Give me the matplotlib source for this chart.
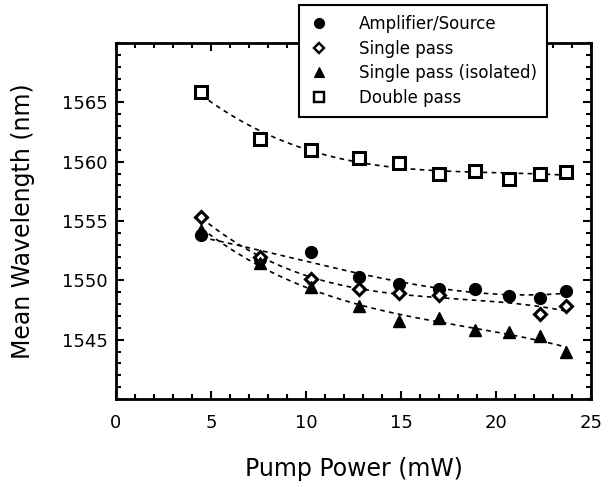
import numpy as np
import matplotlib
matplotlib.use("Agg")
import matplotlib.pyplot as plt
from matplotlib.ticker import MultipleLocator

# Pump power (mW) for each measurement
pump = [4.5, 7.6, 10.25, 12.8, 14.9, 17.0, 18.9, 20.7, 22.3, 23.7]

amp_source = [1553.8, 1551.8, 1552.4, 1550.3, 1549.7, 1549.3, 1549.3, 1548.7, 1548.5, 1549.1]

single_x = [4.5, 7.6, 10.25, 12.8, 14.9, 17.0, 22.3, 23.7]
single = [1555.3, 1552.0, 1550.1, 1549.3, 1548.9, 1548.8, 1547.2, 1547.8]

isolated = [1554.2, 1551.5, 1549.4, 1547.8, 1546.6, 1546.8, 1545.8, 1545.65, 1545.3, 1544.0]

double = [1565.9, 1561.9, 1560.95, 1560.3, 1559.9, 1559.0, 1559.2, 1558.5, 1559.0, 1559.1]

labels = ["Amplifier/Source", "Single pass", "Single pass (isolated)", "Double pass"]

plt.rcParams['font.family'] = ['DejaVu Sans']

fig = plt.figure(figsize=(6.15, 4.87), dpi=100)
ax = fig.add_axes([0.1886, 0.1807, 0.961 - 0.1886, 0.9117 - 0.1807])

series = [
    (pump, amp_source, dict(marker='o', ms=8.5, mfc='black', mec='black', mew=1)),
    (single_x, single, dict(marker='D', ms=6.5, mfc='white', mec='black', mew=2.2)),
    (pump, isolated, dict(marker='^', ms=8.5, mfc='black', mec='black', mew=1)),
    (pump, double, dict(marker='s', ms=8.5, mfc='white', mec='black', mew=2.2)),
]

handles = []
for (xs, ys, style), lab in zip(series, labels):
    # dashed smooth fit through each data set
    coef = np.polyfit(xs, ys, 3)
    xf = np.linspace(min(xs), max(xs), 200)
    ax.plot(xf, np.polyval(coef, xf), color='black', lw=1.2,
            linestyle=(0, (2.8, 2.6)), zorder=1)
    h, = ax.plot(xs, ys, linestyle='none', zorder=3, **style)
    handles.append(h)

ax.set_xlim(0, 25)
ax.set_ylim(1540, 1570)
ax.xaxis.set_major_locator(MultipleLocator(5))
ax.xaxis.set_minor_locator(MultipleLocator(1))
ax.yaxis.set_major_locator(MultipleLocator(5))
ax.yaxis.set_minor_locator(MultipleLocator(1))
ax.set_yticks([1545, 1550, 1555, 1560, 1565])

ax.tick_params(which='both', direction='in', top=True, right=True, width=1.5)
ax.tick_params(which='major', length=6)
ax.tick_params(which='minor', length=3.5)
ax.tick_params(axis='x', labelsize=13, pad=11)
ax.tick_params(axis='y', labelsize=13, pad=6)
for sp in ax.spines.values():
    sp.set_linewidth(2)

ax.set_xlabel("Pump Power (mW)", fontsize=17, labelpad=18)
ax.set_ylabel("Mean Wavelength (nm)", fontsize=17, labelpad=19)

leg_handles = []
for h in handles:
    lh, = ax.plot([], [], linestyle='none', marker=h.get_marker(),
                  mfc=h.get_markerfacecolor(), mec='black',
                  ms=h.get_markersize() * 0.85, mew=h.get_markeredgewidth() * 0.8)
    leg_handles.append(lh)

leg = fig.legend(leg_handles, labels, loc='upper left',
                 bbox_to_anchor=(299 / 615, 1 - 5 / 487),
                 bbox_transform=fig.transFigure, borderaxespad=0,
                 fontsize=12, frameon=True, fancybox=False, shadow=False,
                 framealpha=1, handlelength=1.2, handletextpad=1.8,
                 labelspacing=0.4, borderpad=0.6)
leg.get_frame().set_edgecolor('black')
leg.get_frame().set_linewidth(1.5)
leg.set_zorder(10)

fig.savefig("out.png", dpi=100)
